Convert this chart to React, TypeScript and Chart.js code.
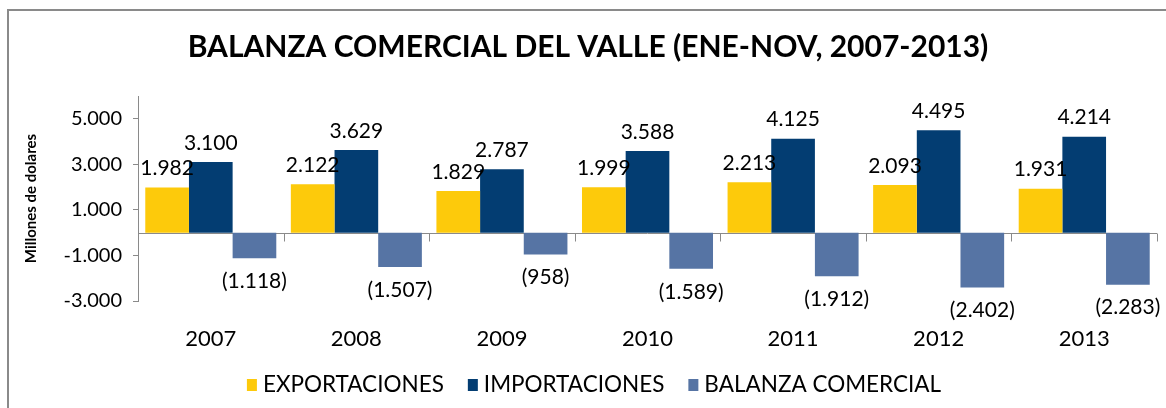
import React, { useEffect, useRef } from 'react';
import { Chart, registerables } from 'chart.js';

Chart.register(...registerables);

const categories = ['2007', '2008', '2009', '2010', '2011', '2012', '2013'];
const exportaciones = [1982, 2122, 1829, 1999, 2213, 2093, 1931];
const importaciones = [3100, 3629, 2787, 3588, 4125, 4495, 4214];
const balanza = [-1118, -1507, -958, -1589, -1912, -2402, -2283];
const yTickValues = [-3000, -1000, 1000, 3000, 5000];
const yMin = -3000;
const yMax = 6000;
const seriesNames = ['EXPORTACIONES', 'IMPORTACIONES', 'BALANZA COMERCIAL'];
const seriesColors = ['#FDCA0B', '#033D72', '#5674A4'];
const titleText = 'BALANZA COMERCIAL DEL VALLE (ENE-NOV, 2007-2013)';
const yTitleText = 'Millones de dolares';

const FONT = "Lato, 'Open Sans', sans-serif";

function thousands(v: number): string {
  return Math.abs(v).toString().replace(/\B(?=(\d{3})+(?!\d))/g, '.');
}
function tickFmt(v: number): string {
  return (v < 0 ? '-' : '') + thousands(v);
}
function labelFmt(v: number): string {
  return v < 0 ? '(' + thousands(v) + ')' : thousands(v);
}

const framePlugin = {
  id: 'framePlugin',
  beforeDraw(chart: any) {
    const { ctx, width, height } = chart;
    ctx.save();
    ctx.fillStyle = '#ffffff';
    ctx.fillRect(0, 0, width, height);
    ctx.fillStyle = '#8a8a8a';
    ctx.fillRect(7, 9, 2, height - 9);
    ctx.fillRect(7, 9, width - 7, 2);
    // title
    ctx.fillStyle = '#000';
    ctx.font = `bold 30px ${FONT}`;
    ctx.textAlign = 'center';
    ctx.textBaseline = 'middle';
    ctx.fillText(titleText, 588, 47);
    ctx.restore();
  },
};

const zeroLinePlugin = {
  id: 'zeroLinePlugin',
  beforeDatasetsDraw(chart: any) {
    const { ctx, chartArea } = chart;
    const y0 = Math.round(chart.scales.y.getPixelForValue(0)) + 0.5;
    const n = categories.length;
    const cw = (chartArea.right - chartArea.left) / n;
    ctx.save();
    ctx.strokeStyle = '#8a8a8a';
    ctx.lineWidth = 1;
    ctx.beginPath();
    ctx.moveTo(chartArea.left, y0);
    ctx.lineTo(chartArea.right, y0);
    for (let i = 1; i <= n; i++) {
      const x = Math.round(chartArea.left + i * cw) + 0.5;
      ctx.moveTo(x, y0);
      ctx.lineTo(x, y0 + 8);
    }
    ctx.stroke();
    ctx.restore();
  },
};

const dataLabelPlugin = {
  id: 'dataLabelPlugin',
  afterDatasetsDraw(chart: any) {
    const { ctx } = chart;
    ctx.save();
    ctx.font = `21px ${FONT}`;
    ctx.fillStyle = '#000';
    ctx.textAlign = 'center';
    ctx.textBaseline = 'middle';
    chart.data.datasets.forEach((ds: any, di: number) => {
      const meta = chart.getDatasetMeta(di);
      meta.data.forEach((bar: any, i: number) => {
        const v = ds.data[i];
        let y: number;
        if (v >= 0) {
          y = bar.y - 19;
        } else {
          y = Math.min(bar.y + 23, 313);
        }
        ctx.fillText(labelFmt(v), bar.x, y);
      });
    });
    ctx.restore();
  },
};

const legendPlugin = {
  id: 'customLegend',
  afterDraw(chart: any) {
    const { ctx } = chart;
    ctx.save();
    ctx.font = `22.5px ${FONT}`;
    ctx.textBaseline = 'middle';
    ctx.textAlign = 'left';
    const boxW = 10;
    const boxH = 12;
    const gapBox = 6;
    const gapItem = 24;
    const widths = seriesNames.map((s) => ctx.measureText(s).width);
    const total = widths.reduce((a, w) => a + boxW + gapBox + w, 0) + gapItem * (seriesNames.length - 1);
    let x = 594 - total / 2;
    const cy = 385;
    seriesNames.forEach((s, i) => {
      ctx.fillStyle = seriesColors[i];
      ctx.fillRect(x, cy - boxH / 2, boxW, boxH);
      x += boxW + gapBox;
      ctx.fillStyle = '#000';
      ctx.fillText(s, x, cy);
      x += widths[i] + gapItem;
    });
    ctx.restore();
  },
};

export default function App() {
  const canvasRef = useRef<HTMLCanvasElement | null>(null);

  useEffect(() => {
    const canvas = canvasRef.current;
    if (!canvas) return;
    const seriesData = [exportaciones, importaciones, balanza];
    const chart = new Chart(canvas, {
      type: 'bar',
      data: {
        labels: categories,
        datasets: seriesNames.map((name, i) => ({
          label: name,
          data: seriesData[i],
          backgroundColor: seriesColors[i],
          borderWidth: 0,
          categoryPercentage: 0.9,
          barPercentage: 1.0,
        })),
      },
      options: {
        responsive: false,
        devicePixelRatio: 1,
        animation: false,
        layout: { padding: { top: 96, right: 9, left: 0, bottom: 0 } },
        plugins: {
          legend: { display: false },
          title: { display: false },
          tooltip: { enabled: false },
        },
        scales: {
          x: {
            type: 'category',
            position: 'bottom',
            grid: { display: false },
            border: { display: false },
            ticks: {
              padding: 17,
              color: '#000',
              font: { family: FONT, size: 22 },
            },
            afterFit: (scale: any) => {
              scale.height = 107;
            },
          },
          y: {
            type: 'linear',
            min: yMin,
            max: yMax,
            grid: {
              drawOnChartArea: false,
              drawTicks: true,
              tickLength: 5,
              color: '#8a8a8a',
            },
            border: { display: true, color: '#8a8a8a', width: 1 },
            ticks: {
              padding: 11,
              color: '#000',
              font: { family: FONT, size: 20 },
              callback: (v: any) => tickFmt(Number(v)),
            },
            afterBuildTicks: (scale: any) => {
              scale.ticks = yTickValues.map((v) => ({ value: v }));
            },
            afterFit: (scale: any) => {
              scale.width = 138;
            },
            title: {
              display: true,
              text: yTitleText,
              color: '#000',
              font: { family: FONT, size: 15, weight: 'bold' },
              padding: { top: 22, bottom: 0 },
            },
          },
        },
      },
      plugins: [framePlugin, zeroLinePlugin, dataLabelPlugin, legendPlugin],
    } as any);
    return () => chart.destroy();
  }, []);

  return (
    <div style={{ position: 'fixed', left: 0, top: 0, width: 1166, height: 408, background: '#fff' }}>
      <canvas ref={canvasRef} width={1166} height={408} style={{ width: 1166, height: 408, display: 'block' }} />
    </div>
  );
}
